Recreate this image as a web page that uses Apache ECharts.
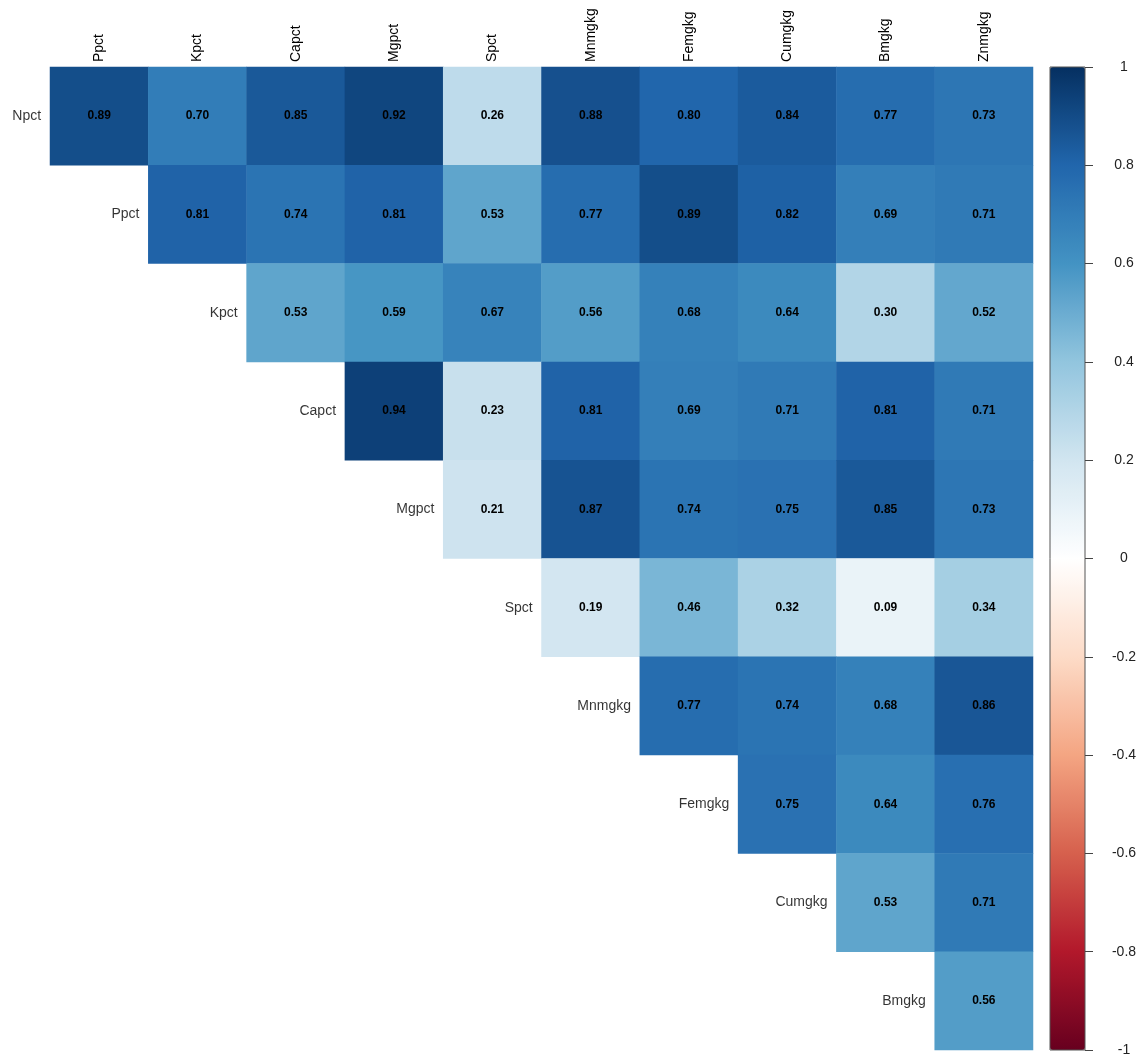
<!DOCTYPE html>
<html>
<head>
<meta charset="utf-8">
<title>Correlation matrix</title>
<script src="https://cdn.jsdelivr.net/npm/echarts@6/dist/echarts.min.js"></script>
<style>
  html, body { margin: 0; padding: 0; background: #fff; }
  #chart { width: 1143px; height: 1059px; }
</style>
</head>
<body>
<div id="chart"></div>
<script>
// Variables shown along the top (columns) and down the diagonal (rows)
const colNames = ['Ppct', 'Kpct', 'Capct', 'Mgpct', 'Spct', 'Mnmgkg', 'Femgkg', 'Cumgkg', 'Bmgkg', 'Znmgkg'];
const rowNames = ['Npct', 'Ppct', 'Kpct', 'Capct', 'Mgpct', 'Spct', 'Mnmgkg', 'Femgkg', 'Cumgkg', 'Bmgkg'];

// Upper-triangle correlations, one list per row, starting at the diagonal column
const rNpct   = [0.89, 0.70, 0.85, 0.92, 0.26, 0.88, 0.80, 0.84, 0.77, 0.73];
const rPpct   = [0.81, 0.74, 0.81, 0.53, 0.77, 0.89, 0.82, 0.69, 0.71];
const rKpct   = [0.53, 0.59, 0.67, 0.56, 0.68, 0.64, 0.30, 0.52];
const rCapct  = [0.94, 0.23, 0.81, 0.69, 0.71, 0.81, 0.71];
const rMgpct  = [0.21, 0.87, 0.74, 0.75, 0.85, 0.73];
const rSpct   = [0.19, 0.46, 0.32, 0.09, 0.34];
const rMnmgkg = [0.77, 0.74, 0.68, 0.86];
const rFemgkg = [0.75, 0.64, 0.76];
const rCumgkg = [0.53, 0.71];
const rBmgkg  = [0.56];
const corrRows = [rNpct, rPpct, rKpct, rCapct, rMgpct, rSpct, rMnmgkg, rFemgkg, rCumgkg, rBmgkg];

// Colour bar tick values
const barTicks = [-1, -0.8, -0.6, -0.4, -0.2, 0, 0.2, 0.4, 0.6, 0.8, 1];

// Diverging red-white-blue ramp from -1 to 1
const rdbu = ['#67001F', '#B2182B', '#D6604D', '#F4A582', '#FDDBC7', '#FFFFFF',
              '#D1E5F0', '#92C5DE', '#4393C3', '#2166AC', '#053061'];

const cells = [];
corrRows.forEach((vals, i) => {
  vals.forEach((v, k) => { cells.push([i + k, i, v]); });
});
const diagLabels = rowNames.map((name, i) => [i, i, name]);

const FONT = "'Liberation Sans', Arial, sans-serif";
const GL = 50, GT = 67, GW = 983, GH = 983;

const chart = echarts.init(document.getElementById('chart'), null, { renderer: 'canvas' });
chart.setOption({
  backgroundColor: '#fff',
  animation: false,
  textStyle: { fontFamily: FONT },
  grid: [
    { left: GL, top: GT, width: GW, height: GH },
    { left: 1050, top: GT, width: 35, height: GH, show: true, z: 10,
      backgroundColor: 'transparent', borderColor: '#555', borderWidth: 1 }
  ],
  xAxis: [
    {
      type: 'category', data: colNames, position: 'top', gridIndex: 0,
      axisLine: { show: false }, axisTick: { show: false }, splitLine: { show: false },
      axisLabel: { rotate: -90, margin: 5, fontSize: 14, color: '#000', fontFamily: FONT }
    },
    { type: 'value', gridIndex: 1, show: false, min: 0, max: 1 }
  ],
  yAxis: [
    {
      type: 'category', data: rowNames, inverse: true, gridIndex: 0,
      axisLine: { show: false }, axisTick: { show: false }, axisLabel: { show: false },
      splitLine: { show: false }
    },
    {
      type: 'value', gridIndex: 1, position: 'right', min: -1, max: 1, interval: 0.2, z: 10,
      axisLine: { show: false, onZero: false },
      axisTick: { show: true, inside: false, length: 8, lineStyle: { color: '#444' } },
      splitLine: { show: false },
      axisLabel: {
        margin: 39, align: 'center', fontSize: 14, color: '#222', fontFamily: FONT,
        customValues: barTicks,
        formatter: v => String(Math.round(v * 10) / 10)
      }
    }
  ],
  visualMap: {
    type: 'continuous', seriesIndex: 0, dimension: 2, min: -1, max: 1,
    calculable: false, orient: 'vertical', left: 1050, top: GT, padding: 0,
    itemWidth: 35, itemHeight: GH, text: null, z: 2,
    inRange: { color: rdbu }
  },
  series: [
    {
      type: 'heatmap', xAxisIndex: 0, yAxisIndex: 0, data: cells,
      itemStyle: { borderWidth: 0 },
      emphasis: { disabled: true },
      label: {
        show: true, color: '#000', fontSize: 12, fontWeight: 'bold', fontFamily: FONT,
        formatter: p => p.value[2].toFixed(2)
      }
    },
    {
      type: 'scatter', xAxisIndex: 0, yAxisIndex: 0, data: diagLabels,
      symbolSize: 0, silent: true,
      label: {
        show: true, position: 'left', distance: 58, fontSize: 14, color: '#000', fontFamily: FONT,
        formatter: p => p.value[2]
      }
    }
  ]
});
</script>
</body>
</html>
